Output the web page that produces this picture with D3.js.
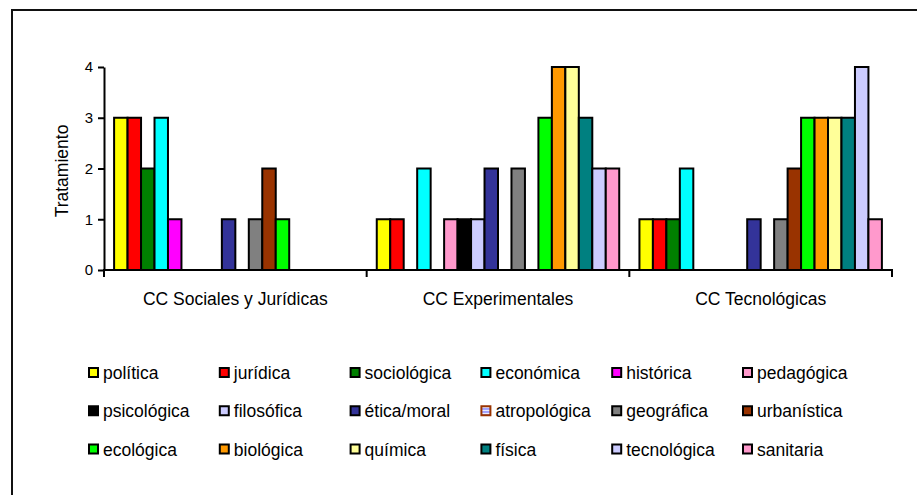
<!DOCTYPE html>
<html>
<head>
<meta charset="utf-8">
<script src="https://cdn.jsdelivr.net/npm/d3@7/dist/d3.min.js"></script>
<style>
  html, body { margin: 0; padding: 0; background: #fff; }
  svg { display: block; font-family: "Liberation Sans", Arial, sans-serif; }
</style>
</head>
<body>
<svg id="chart" width="917" height="495"></svg>
<script>
// Categories on the x axis
const categories = ["CC Sociales y Jurídicas", "CC Experimentales", "CC Tecnológicas"];

// Series (one bar per series within each category)
const seriesNames = [
  "política", "jurídica", "sociológica", "económica", "histórica", "pedagógica",
  "psicológica", "filosófica", "ética/moral", "atropológica", "geográfica", "urbanística",
  "ecológica", "biológica", "química", "física", "tecnológica", "sanitaria"
];

// Values per category, in series order
const socialesValues       = [3, 3, 2, 3, 1, 0, 0, 0, 1, 0, 1, 2, 1, 0, 0, 0, 0, 0];
const experimentalesValues = [1, 1, 0, 2, 0, 1, 1, 1, 2, 0, 2, 0, 3, 4, 4, 3, 2, 2];
const tecnologicasValues   = [1, 1, 1, 2, 0, 0, 0, 0, 1, 0, 1, 2, 3, 3, 3, 3, 4, 1];

const yTicks = [0, 1, 2, 3, 4];
const yTitle = "Tratamiento";

// Fill colours per series
const seriesColors = [
  "#FFFF00", "#FF0000", "#008000", "#00FFFF", "#FF00FF", "#FF99CC",
  "#000000", "#CCCCFF", "#333399", "url(#stripes)", "#808080", "#993300",
  "#00FF00", "#FF9900", "#FFFF99", "#008080", "#CCCCFF", "#FF99CC"
];

const valuesByCategory = [socialesValues, experimentalesValues, tecnologicasValues];
const data = categories.map((c, ci) => ({
  category: c,
  bars: seriesNames.map((s, si) => ({ series: s, index: si, value: valuesByCategory[ci][si] }))
}));

const svg = d3.select("#chart");

// Striped fill for the "atropológica" swatch
const defs = svg.append("defs");
const pat = defs.append("pattern")
  .attr("id", "stripes").attr("patternUnits", "userSpaceOnUse")
  .attr("width", 4).attr("height", 3);
pat.append("rect").attr("width", 4).attr("height", 3).attr("fill", "#fff");
pat.append("rect").attr("width", 4).attr("height", 1.6).attr("fill", "#8080ff");

// Outer chart frame
svg.append("rect")
  .attr("x", 12).attr("y", 10).attr("width", 940).attr("height", 520)
  .attr("fill", "none").attr("stroke", "#111").attr("stroke-width", 2);

const plotLeft = 104, plotRight = 892, plotTop = 67, plotBottom = 270;

const x0 = d3.scaleBand().domain(categories).range([plotLeft, plotRight]).padding(0);
const x1 = d3.scaleBand().domain(d3.range(seriesNames.length))
  .range([0, x0.bandwidth()]).paddingInner(0).paddingOuter(0.75);
const y = d3.scaleLinear().domain([0, 4]).range([plotBottom, plotTop]);

// Bars
const groups = svg.append("g").selectAll("g")
  .data(data).join("g")
  .attr("transform", d => `translate(${x0(d.category)},0)`);

groups.selectAll("rect")
  .data(d => d.bars.filter(b => b.value > 0))
  .join("rect")
  .attr("x", d => x1(d.index))
  .attr("y", d => y(d.value))
  .attr("width", x1.bandwidth())
  .attr("height", d => y(0) - y(d.value))
  .attr("fill", d => seriesColors[d.index])
  .attr("stroke", "#000")
  .attr("stroke-width", 2);

// Y axis
const yAxis = d3.axisLeft(y).tickValues(yTicks).tickFormat(d3.format("d"))
  .tickSizeInner(6).tickSizeOuter(0).tickPadding(5);
const gy = svg.append("g").attr("transform", `translate(${plotLeft},0)`).call(yAxis);
gy.select(".domain").attr("stroke", "#000").attr("stroke-width", 2);
gy.selectAll(".tick line").attr("stroke", "#000").attr("stroke-width", 2);
gy.selectAll(".tick text").attr("font-size", 15).attr("fill", "#000")
  .attr("font-family", "Liberation Sans, Arial, sans-serif");

// X axis: baseline with category separators
const gx = svg.append("g");
gx.append("line")
  .attr("x1", plotLeft - 1).attr("x2", plotRight + 1)
  .attr("y1", y(0)).attr("y2", y(0))
  .attr("stroke", "#000").attr("stroke-width", 2);
const sepPositions = categories.map(c => x0(c)).concat([x0(categories[categories.length - 1]) + x0.bandwidth()]);
gx.selectAll("line.sep").data(sepPositions).join("line")
  .attr("class", "sep")
  .attr("x1", d => d).attr("x2", d => d)
  .attr("y1", y(0)).attr("y2", y(0) + 7)
  .attr("stroke", "#000").attr("stroke-width", 2);
gx.selectAll("text").data(categories).join("text")
  .attr("x", d => x0(d) + x0.bandwidth() / 2)
  .attr("y", 305)
  .attr("text-anchor", "middle")
  .attr("font-size", 17.5)
  .attr("fill", "#000")
  .text(d => d);

// Y axis title
svg.append("text")
  .attr("transform", "translate(68,171) rotate(-90)")
  .attr("text-anchor", "middle")
  .attr("font-size", 17.5)
  .attr("fill", "#000")
  .text(yTitle);

// Legend: 6 columns x 3 rows
const legendX = d3.scaleLinear().domain([0, 5]).range([88, 742]);
const legendY = d3.scaleLinear().domain([0, 2]).range([367, 443.5]);
const legend = svg.append("g").selectAll("g")
  .data(seriesNames).join("g")
  .attr("transform", (d, i) => `translate(${legendX(i % 6)},${legendY(Math.floor(i / 6))})`);

legend.append("rect")
  .attr("x", 1).attr("y", 1).attr("width", 9).attr("height", 9)
  .attr("fill", (d, i) => seriesColors[i])
  .attr("stroke", (d, i) => i === 9 ? "#993300" : "#000")
  .attr("stroke-width", 2);

legend.append("text")
  .attr("x", 15).attr("y", 12)
  .attr("font-size", 17.5)
  .attr("fill", "#000")
  .text(d => d);
</script>
</body>
</html>
